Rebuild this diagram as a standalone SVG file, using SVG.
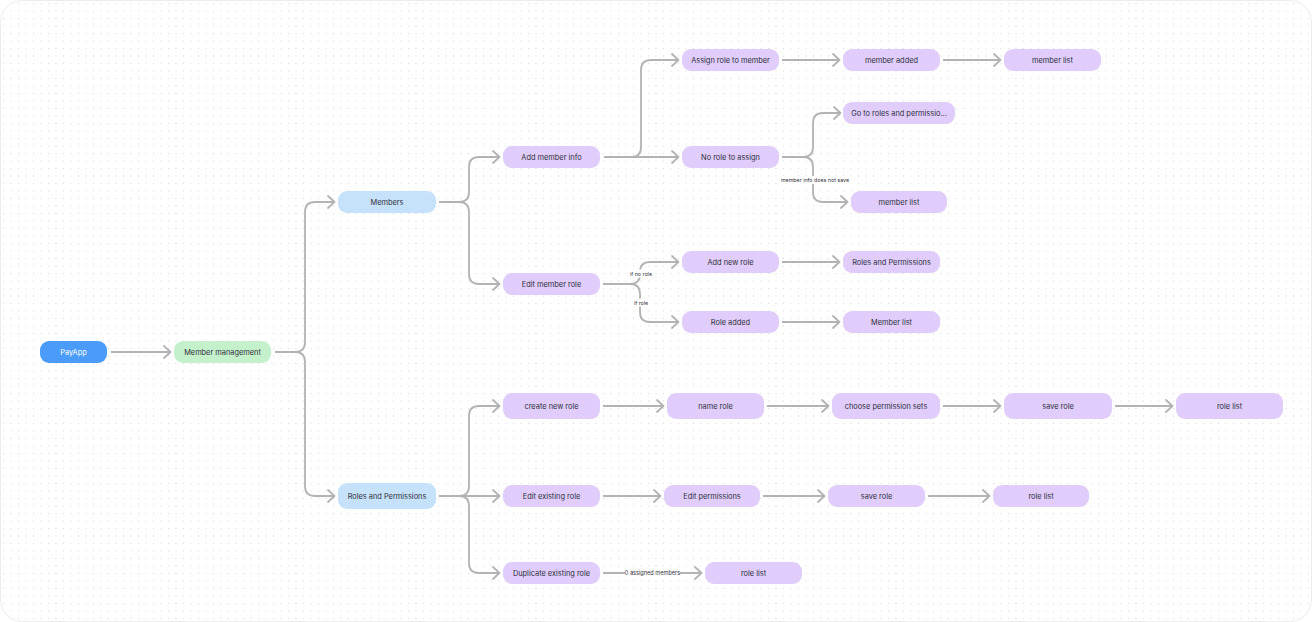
<svg xmlns="http://www.w3.org/2000/svg" width="1312" height="622" viewBox="0 0 1312 622">
<defs>
<pattern id="dots" x="3" y="3" width="7.5" height="7.5" patternUnits="userSpaceOnUse">
<rect x="0" y="0" width="1" height="1" fill="#d6d6d6"/>
</pattern>
<marker id="ah" viewBox="0 0 10 14" refX="9" refY="7" markerWidth="10" markerHeight="14" markerUnits="userSpaceOnUse" orient="auto">
<path d="M2,1 L8.5,7 L2,13" fill="none" stroke="#b3b3b3" stroke-width="1.8" stroke-linecap="round" stroke-linejoin="round"/>
</marker>
<style>
.n rect{rx:9px;ry:9px}
.p rect{fill:#e0cdfb}
.b rect{fill:#c6e2fb}
.g rect{fill:#c4f1cc}
.n text{font-family:Inter,"Liberation Sans",sans-serif;font-size:7.4px;fill:#2f2f3a;text-anchor:middle;dominant-baseline:central}
.e path{fill:none;stroke:#b3b3b3;stroke-width:1.8;marker-end:url(#ah)}
.lb rect{fill:#ffffff}
.lb text{font-family:Inter,"Liberation Sans",sans-serif;font-size:5.3px;fill:#2f2f3a;text-anchor:middle;dominant-baseline:central}
</style>
</defs>
<rect x="0.5" y="0.5" width="1311" height="621" rx="22" fill="#ffffff" stroke="#ececec" stroke-width="1"/>
<rect x="1" y="1" width="1310" height="620" rx="22" fill="url(#dots)"/>

<g id="connectors" class="e">
<path d="M111,352 H171"/>
<path d="M275,352 H295 Q305,352 305,342 V212 Q305,202 315,202 H335"/>
<path d="M275,352 H295 Q305,352 305,362 V486 Q305,496 315,496 H335"/>
<path d="M439,202 H459 Q469,202 469,192 V167 Q469,157 479,157 H500"/>
<path d="M439,202 H459 Q469,202 469,212 V274 Q469,284 479,284 H500"/>
<path d="M439,496 H459 Q469,496 469,486 V416 Q469,406 479,406 H500"/>
<path d="M439,496 H500"/>
<path d="M439,496 H459 Q469,496 469,506 V563 Q469,573 479,573 H500"/>
<path d="M604,157 H679"/>
<path d="M604,157 H631 Q641,157 641,147 V70 Q641,60 651,60 H679"/>
<path d="M782,60 H840"/>
<path d="M943,60 H1001"/>
<path d="M782,157 H803 Q813,157 813,147 V123 Q813,113 823,113 H841"/>
<path d="M782,157 H803 Q813,157 813,167 V192 Q813,202 823,202 H848"/>
<path d="M603,284 H630 Q640,284 640,274 V272 Q640,262 650,262 H679"/>
<path d="M603,284 H630 Q640,284 640,294 V312 Q640,322 650,322 H679"/>
<path d="M782,262 H840"/>
<path d="M782,322 H840"/>
<path d="M603,406 H664"/>
<path d="M767,406 H829"/>
<path d="M943,406 H1001"/>
<path d="M1115,406 H1173"/>
<path d="M603,496 H661"/>
<path d="M763,496 H825"/>
<path d="M928,496 H990"/>
<path d="M603,573 H702"/>
</g>

<g id="labels" class="lb">
<rect x="779" y="176" width="72" height="8"/>
<text x="815" y="180">member info does not save</text>
<rect x="628" y="269.5" width="26" height="8"/>
<text x="641" y="273.5">if no role</text>
<rect x="632" y="298.5" width="18" height="8"/>
<text x="641" y="302.5">if role</text>
<rect x="625" y="569" width="55" height="8"/>
<text x="652.5" y="573" style="font-size:5.6px">0 assigned members</text>
</g>

<g id="n-payapp" class="n"><rect x="40" y="341" width="67" height="22" fill="#4b9cf8"/><text x="73.5" y="352" style="fill:#ffffff">PayApp</text></g>
<g id="n-member-management" class="n g"><rect x="174" y="341" width="97" height="22"/><text x="222.5" y="352">Member management</text></g>
<g id="n-members" class="n b"><rect x="338" y="191" width="98" height="22"/><text x="387" y="202">Members</text></g>
<g id="n-roles-permissions" class="n b"><rect x="338" y="483" width="98" height="26"/><text x="387" y="496">Roles and Permissions</text></g>

<g id="n-add-member-info" class="n p"><rect x="503" y="146" width="97" height="22"/><text x="551.5" y="157">Add member info</text></g>
<g id="n-edit-member-role" class="n p"><rect x="503" y="273" width="97" height="22"/><text x="551.5" y="284">Edit member role</text></g>
<g id="n-assign-role" class="n p"><rect x="682" y="49" width="97" height="22"/><text x="730.5" y="60">Assign role to member</text></g>
<g id="n-no-role" class="n p"><rect x="682" y="146" width="97" height="22"/><text x="730.5" y="157">No role to assign</text></g>
<g id="n-member-added" class="n p"><rect x="843" y="49" width="97" height="22"/><text x="891.5" y="60">member added</text></g>
<g id="n-member-list-1" class="n p"><rect x="1004" y="49" width="97" height="22"/><text x="1052.5" y="60">member list</text></g>
<g id="n-goto-roles" class="n p"><rect x="843" y="102" width="112" height="22"/><text x="899" y="113">Go to roles and permissio...</text></g>
<g id="n-member-list-2" class="n p"><rect x="851" y="191" width="96" height="22"/><text x="899" y="202">member list</text></g>
<g id="n-add-new-role" class="n p"><rect x="682" y="251" width="97" height="22"/><text x="730.5" y="262">Add new role</text></g>
<g id="n-roles-permissions-2" class="n p"><rect x="843" y="251" width="97" height="22"/><text x="891.5" y="262">Roles and Permissions</text></g>
<g id="n-role-added" class="n p"><rect x="682" y="311" width="97" height="22"/><text x="730.5" y="322">Role added</text></g>
<g id="n-member-list-3" class="n p"><rect x="843" y="311" width="97" height="22"/><text x="891.5" y="322">Member list</text></g>

<g id="n-create-new-role" class="n p"><rect x="503" y="393" width="97" height="26"/><text x="551.5" y="406">create new role</text></g>
<g id="n-name-role" class="n p"><rect x="667" y="393" width="97" height="26"/><text x="715.5" y="406">name role</text></g>
<g id="n-choose-permission" class="n p"><rect x="832" y="393" width="108" height="26"/><text x="886" y="406">choose permission sets</text></g>
<g id="n-save-role-1" class="n p"><rect x="1004" y="393" width="108" height="26"/><text x="1058" y="406">save role</text></g>
<g id="n-role-list-1" class="n p"><rect x="1176" y="393" width="107" height="26"/><text x="1229.5" y="406">role list</text></g>

<g id="n-edit-existing-role" class="n p"><rect x="503" y="485" width="97" height="22"/><text x="551.5" y="496">Edit existing role</text></g>
<g id="n-edit-permissions" class="n p"><rect x="664" y="485" width="96" height="22"/><text x="712" y="496">Edit permissions</text></g>
<g id="n-save-role-2" class="n p"><rect x="828" y="485" width="97" height="22"/><text x="876.5" y="496">save role</text></g>
<g id="n-role-list-2" class="n p"><rect x="993" y="485" width="96" height="22"/><text x="1041" y="496">role list</text></g>

<g id="n-duplicate-role" class="n p"><rect x="503" y="562" width="97" height="22"/><text x="551.5" y="573">Duplicate existing role</text></g>
<g id="n-role-list-3" class="n p"><rect x="705" y="562" width="97" height="22"/><text x="753.5" y="573">role list</text></g>
</svg>
